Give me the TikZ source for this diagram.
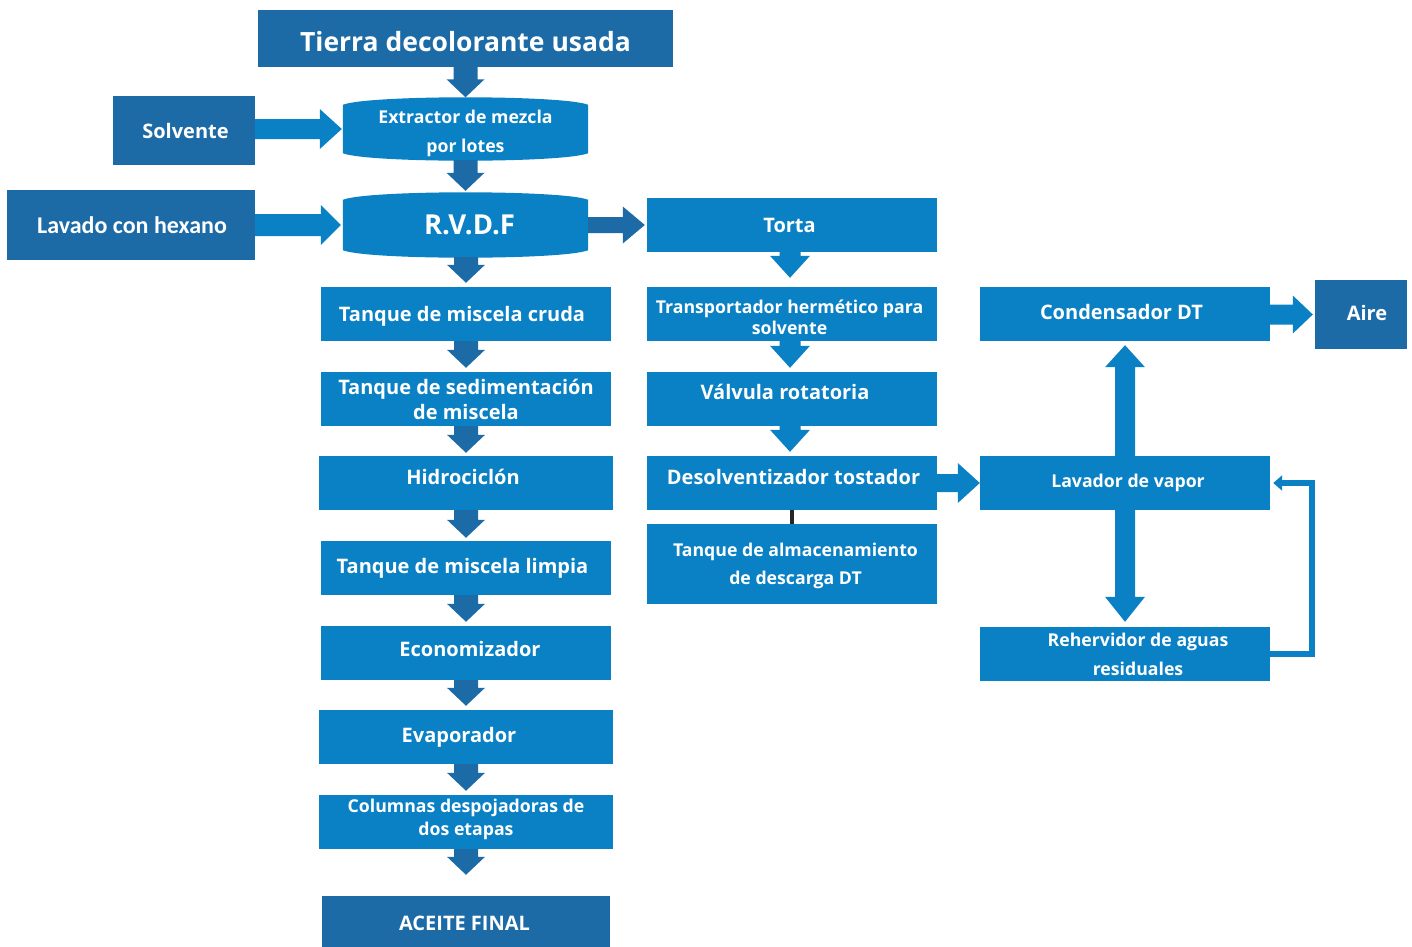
\documentclass[tikz,border=0pt]{standalone}
\usepackage{fontspec}
\setmainfont{Open Sans}
\newfontfamily\calib{Carlito}
\usetikzlibrary{calc,arrows.meta,backgrounds}

\definecolor{dkblue}{RGB}{28,107,166}
\definecolor{ltblue}{RGB}{10,128,197}

% block arrows: #1 colour, #2 start, #3 tip, #4 shaft width, #5 head width, #6 head length
\newcommand{\arrdown}[6]{%
  \fill[#1] let \p1=(#2), \p2=(#3) in
    ({\x2-0.5*#4},\y1) -- ({\x2+0.5*#4},\y1) -- ({\x2+0.5*#4},{\y2+#6}) --
    ({\x2+0.5*#5},{\y2+#6}) -- (\x2,\y2) -- ({\x2-0.5*#5},{\y2+#6}) --
    ({\x2-0.5*#4},{\y2+#6}) -- cycle;}
\newcommand{\arrup}[6]{%
  \fill[#1] let \p1=(#2), \p2=(#3) in
    ({\x2-0.5*#4},\y1) -- ({\x2+0.5*#4},\y1) -- ({\x2+0.5*#4},{\y2-#6}) --
    ({\x2+0.5*#5},{\y2-#6}) -- (\x2,\y2) -- ({\x2-0.5*#5},{\y2-#6}) --
    ({\x2-0.5*#4},{\y2-#6}) -- cycle;}
\newcommand{\arrright}[6]{%
  \fill[#1] let \p1=(#2), \p2=(#3) in
    (\x1,{\y2-0.5*#4}) -- (\x1,{\y2+0.5*#4}) -- ({\x2-#6},{\y2+0.5*#4}) --
    ({\x2-#6},{\y2+0.5*#5}) -- (\x2,\y2) -- ({\x2-#6},{\y2-0.5*#5}) --
    ({\x2-#6},{\y2-0.5*#4}) -- cycle;}
% drum-shaped vessel drawn behind a named node
\newcommand{\drum}[1]{%
  \fill[ltblue] (#1.north west) .. controls ($(#1.north west)+(25,10)$) and ($(#1.north east)+(-25,10)$) .. (#1.north east)
    -- (#1.south east) .. controls ($(#1.south east)+(-25,-10)$) and ($(#1.south west)+(25,-10)$) .. (#1.south west) -- cycle;}
% process block: #1 box style, #2 name, #3 centre, #4 width, #5 height,
% #6 text font, #7 text offset, #8 text
\newcommand{\blk}[8]{%
  \node[#1, minimum width=#4pt, minimum height=#5pt] (#2) at #3 {};
  \node[txt, font=#6] (#2-t) at ($(#2.center)+#7$) {#8};}

\begin{document}
\begin{tikzpicture}[x=1pt,y=1pt,
  box/.style={rectangle, inner sep=0pt},
  lt/.style={box, fill=ltblue},
  dk/.style={box, fill=dkblue},
  drumbox/.style={box},
  txt/.style={inner sep=0pt, align=center, text=white}]
\useasboundingbox (0,0) rectangle (1412,-946);

\def\fbig{\bfseries\fontsize{26.5}{30}\selectfont}
\def\fmid{\bfseries\fontsize{20}{25}\selectfont}
\def\fsml{\bfseries\fontsize{17.7}{21}\selectfont}

% inputs and extraction
\blk{dk}{tierra}{(465.5,-38.5)}{415}{57}{\fbig}{(0,-3)}{Tierra decolorante usada}
\blk{dk}{solv}{(184,-130.5)}{142}{69}{\fmid}{(1.5,0)}{Solvente}
\blk{drumbox}{ext}{(465.5,-129)}{245}{48}{\bfseries\fontsize{17.7}{29}\selectfont}{(0,-4)}{Extractor de mezcla\\por lotes}
\blk{dk}{lav}{(131,-225)}{248}{70}{\calib\bfseries\fontsize{24}{28}\selectfont}{(1,0)}{Lavado con hexano}
\blk{drumbox}{rvdf}{(465.5,-225)}{245}{50}{\bfseries\fontsize{27.5}{30}\selectfont}{(4,0)}{R.V.D.F}
\blk{lt}{torta}{(792,-225)}{290}{54}{\fmid}{(-2.5,0)}{Torta}

% miscella line
\blk{lt}{cruda}{(466,-314)}{290}{54}{\fmid}{(-4,-2)}{Tanque de miscela cruda}
\blk{lt}{sedim}{(466,-399)}{290}{54}{\fmid}{(0,0)}{Tanque de sedimentación\\de miscela}
\blk{lt}{hidro}{(466,-483)}{294}{54}{\fmid}{(-3,6)}{Hidrociclón}
\blk{lt}{limpia}{(466,-568)}{290}{54}{\fmid}{(-3.5,0)}{Tanque de miscela limpia}
\blk{lt}{econ}{(466,-653)}{290}{54}{\fmid}{(4,4)}{Economizador}
\blk{lt}{evap}{(466,-737)}{294}{54}{\fmid}{(-7,0)}{Evaporador}
\blk{lt}{colum}{(466,-822)}{294}{54}{\bfseries\fontsize{17.7}{23}\selectfont}{(0,3)}{Columnas despojadoras de\\dos etapas}
\blk{dk}{aceite}{(466,-922)}{288}{52}{\fmid}{(-1.5,-1)}{ACEITE FINAL}

% meal line
\blk{lt}{transp}{(792,-314)}{290}{54}{\fsml}{(-2.5,-3)}{Transportador hermético para\\solvente}
\blk{lt}{valv}{(792,-399)}{290}{54}{\fmid}{(-7,7)}{Válvula rotatoria}
\blk{lt}{desolv}{(792,-483)}{290}{54}{\fmid}{(1.5,6)}{Desolventizador tostador}
\blk{lt}{tanqalm}{(792,-564)}{290}{80}{\bfseries\fontsize{17.7}{28}\selectfont}{(3.5,-2)}{Tanque de almacenamiento\\de descarga DT}

% vapour recovery
\blk{lt}{cond}{(1125,-314)}{290}{54}{\fmid}{(-3.5,2)}{Condensador DT}
\blk{dk}{aire}{(1361,-314.5)}{92}{69}{\fmid}{(6,2)}{Aire}
\blk{lt}{lavador}{(1125,-483)}{290}{54}{\fsml}{(3,0)}{Lavador de vapor}
\blk{lt}{reherv}{(1125,-654)}{290}{54}{\bfseries\fontsize{17.7}{29}\selectfont}{(13,0)}{Rehervidor de aguas\\residuales}

\begin{scope}[on background layer]
  \drum{ext}
  \drum{rvdf}
\end{scope}

% centre column
\arrdown{dkblue}{tierra.south}{$(ext.north)+(0,7.5)$}{24}{38}{18}
\arrdown{dkblue}{$(ext.south)+(0,-7)$}{$(rvdf.north)+(0,9)$}{24}{38}{18}
\arrdown{dkblue}{$(rvdf.south)+(0,-7)$}{$(cruda.north)+(0,4)$}{24}{38}{18}
\arrdown{dkblue}{cruda.south}{$(sedim.north)+(0,4)$}{24}{38}{18}
\arrdown{dkblue}{sedim.south}{$(hidro.north)+(0,3)$}{24}{38}{18}
\arrdown{dkblue}{hidro.south}{$(limpia.north)+(0,3)$}{24}{38}{18}
\arrdown{dkblue}{limpia.south}{$(econ.north)+(0,4)$}{24}{38}{18}
\arrdown{dkblue}{econ.south}{$(evap.north)+(0,4)$}{24}{38}{18}
\arrdown{dkblue}{evap.south}{$(colum.north)+(0,4)$}{24}{38}{18}
\arrdown{dkblue}{colum.south}{$(aceite.north)+(0,21)$}{24}{38}{18}

% feeds into the drums
\arrright{ltblue}{solv.east}{$(ext.west)+(-1,0)$}{20}{40}{22}
\arrright{ltblue}{lav.east}{$(rvdf.west)+(-2,0)$}{22}{40}{20}
\arrright{dkblue}{rvdf.east}{$(torta.west)+(-2,0)$}{16}{37}{22}

% meal column
\arrdown{ltblue}{$(torta.south)+(-2,0)$}{$(transp.north)+(-2,9)$}{21}{40}{22}
\arrdown{ltblue}{$(transp.south)+(-2,0)$}{$(valv.north)+(-2,4)$}{21}{40}{22}
\arrdown{ltblue}{$(valv.south)+(-2,0)$}{$(desolv.north)+(-2,4)$}{21}{40}{22}
\draw[black!85, line width=3.5pt] (desolv.south) -- (tanqalm.north);
\arrright{ltblue}{desolv.east}{lavador.west}{18}{40}{22}

% vapour recovery
\arrup{ltblue}{lavador.north}{$(cond.south)+(0,-4)$}{20}{40}{22}
\arrdown{ltblue}{lavador.south}{$(reherv.north)+(0,5)$}{20}{40}{25}
\arrright{ltblue}{cond.east}{$(aire.west)+(-2,0)$}{20}{38}{20}
\draw[ltblue, line width=6pt, -{Triangle[length=9pt,width=15pt]}]
  (reherv.east) -- ++(42,0) |- ($(lavador.east)+(3,0)$);
\end{tikzpicture}
\end{document}
